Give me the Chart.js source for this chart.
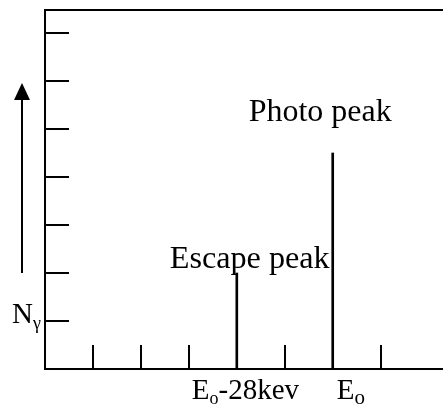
<!DOCTYPE html>
<html>
<head>
<meta charset="utf-8">
<script src="https://cdn.jsdelivr.net/npm/chart.js@4.4.1/dist/chart.umd.min.js"></script>
<style>
  html, body { margin: 0; padding: 0; background: #fff; }
  #wrap { width: 443px; height: 405px; }
</style>
</head>
<body>
<div id="wrap"><canvas id="spectrum" width="443" height="405"></canvas></div>
<script>
// peak positions (channel units) and heights (count units)
const peakPositions = [4, 6];
const peakHeights = [2, 4.5];
const peakLabels = ["Escape peak", "Photo peak"];

// axis tick marks
const xTicks = [1, 2, 3, 4, 5, 6, 7];
const yTicks = [1, 2, 3, 4, 5, 6, 7];

// x tick labels: value, main text, subscript, tail
const xLabelValues = [4, 6];
const xLabelMain = ["E", "E"];
const xLabelSub = ["o", "o"];
const xLabelTail = ["-28kev", ""];

const yAxisTitle = "N";
const yAxisTitleSub = "\u03b3";

const FAMILY = "\"Liberation Serif\", serif";

// draws text pieces, optionally fitted to a target width
function drawRuns(ctx, runs, x, baseline, width) {
    let natural = 0;
    runs.forEach(function (r) {
        ctx.font = r.size + "px " + FAMILY;
        natural += ctx.measureText(r.t).width;
    });
    const sx = width ? width / natural : 1;
    ctx.save();
    ctx.translate(x, baseline);
    ctx.scale(sx, 1);
    let cx = 0;
    runs.forEach(function (r) {
        ctx.font = r.size + "px " + FAMILY;
        ctx.fillText(r.t, cx, r.dy || 0);
        cx += ctx.measureText(r.t).width;
    });
    ctx.restore();
    return natural;
}

const framePlugin = {
    id: "frame",
    afterDatasetsDraw(chart) {
        const ctx = chart.ctx;
        const xs = chart.scales.x;
        const ys = chart.scales.y;
        const area = chart.chartArea;
        ctx.save();
        ctx.strokeStyle = "#000";
        ctx.fillStyle = "#000";
        ctx.lineWidth = 2;
        ctx.textAlign = "left";
        ctx.textBaseline = "alphabetic";

        // frame: top, left, bottom (no right border)
        ctx.beginPath();
        ctx.moveTo(area.right, area.top + 1);
        ctx.lineTo(area.left, area.top + 1);
        ctx.lineTo(area.left, area.bottom);
        ctx.lineTo(area.right, area.bottom);
        ctx.stroke();

        // inward ticks
        ctx.beginPath();
        yTicks.forEach(function (v) {
            const y = Math.round(ys.getPixelForValue(v));
            ctx.moveTo(area.left, y);
            ctx.lineTo(area.left + 24, y);
        });
        xTicks.forEach(function (v) {
            const x = Math.round(xs.getPixelForValue(v));
            ctx.moveTo(x, area.bottom);
            ctx.lineTo(x, area.bottom - 24);
        });
        ctx.stroke();

        // arrow on the left
        const ax = 22;
        const aBottom = ys.getPixelForValue(2);
        ctx.beginPath();
        ctx.moveTo(ax, aBottom);
        ctx.lineTo(ax, 98);
        ctx.stroke();
        ctx.beginPath();
        ctx.moveTo(ax, 83);
        ctx.lineTo(ax - 8, 100);
        ctx.lineTo(ax + 8, 100);
        ctx.closePath();
        ctx.fill();

        // y title N with subscript gamma
        drawRuns(ctx, [
            { t: yAxisTitle, size: 29 },
            { t: yAxisTitleSub, size: 18, dy: 6 }
        ], 12, ys.getPixelForValue(1) + 2);

        // peak labels
        const escTop = ys.getPixelForValue(peakHeights[0]);
        const photoX = xs.getPixelForValue(peakPositions[1]);
        drawRuns(ctx, [{ t: peakLabels[0], size: 31 }], photoX - 163, escTop - 5, 160);
        const photoTop = ys.getPixelForValue(peakHeights[1]);
        drawRuns(ctx, [{ t: peakLabels[1], size: 31 }], photoX - 84, photoTop - 32, 143);

        // x tick labels
        const labelOffsets = [-45, 4];
        const subSizes = [18, 21];
        xLabelValues.forEach(function (v, i) {
            const x = xs.getPixelForValue(v) + labelOffsets[i];
            const runs = [
                { t: xLabelMain[i], size: 29 },
                { t: xLabelSub[i], size: subSizes[i], dy: 5 }
            ];
            if (xLabelTail[i]) runs.push({ t: xLabelTail[i], size: 29 });
            drawRuns(ctx, runs, x, area.bottom + 30);
        });
        ctx.restore();
    }
};

const ctx = document.getElementById("spectrum").getContext("2d");
const spectrumChart = new Chart(ctx, {
    type: "bar",
    data: {
        datasets: [{
            data: peakPositions.map(function (x, i) { return { x: x, y: peakHeights[i] }; }),
            backgroundColor: "#000",
            borderWidth: 0,
            barThickness: 2
        }]
    },
    options: {
        responsive: false,
        animation: false,
        layout: { padding: { left: 45, top: 9, right: 0, bottom: 36 } },
        plugins: { legend: { display: false }, tooltip: { enabled: false } },
        scales: {
            x: { type: "linear", min: 0, max: 8.3, offset: false, display: false },
            y: { min: 0, max: 7.5, display: false }
        }
    },
    plugins: [framePlugin]
});
</script>
</body>
</html>
